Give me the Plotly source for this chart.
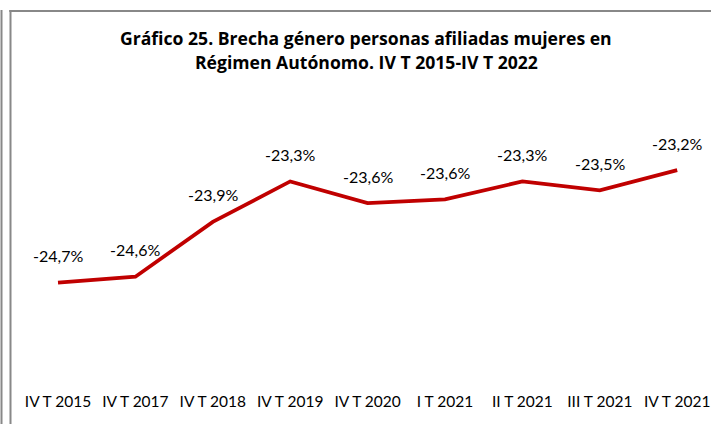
import plotly.graph_objects as go

# ---- data ----
categories = ["IV T 2015", "IV T 2017", "IV T 2018", "IV T 2019", "IV T 2020",
              "I T 2021", "II T 2021", "III T 2021", "IV T 2021"]
brecha = [-24.69, -24.61, -23.88, -23.34, -23.63, -23.58, -23.34, -23.46, -23.19]
title_lines = ["Gráfico 25. Brecha género personas afiliadas mujeres en",
               "Régimen Autónomo. IV T 2015-IV T 2022"]

# ---- layout geometry ----
W, H = 711, 424
FONT = "Lato"
TITLE_FONT = "Open Sans"
LINE_COLOR = "#C00000"
plot_bottom_px = 390          # pixel row of the x axis
first_px, step_px = 58, 77.4  # category spacing
px_per_unit = 75.0
top_value = -20.921           # value at pixel row 0

x_range = [-first_px / step_px, (W - first_px) / step_px]
y_range = [top_value - plot_bottom_px / px_per_unit, top_value]


def fmt(v):
    return f"{v:.1f}".replace(".", ",") + "%"


fig = go.Figure()
fig.add_trace(go.Scatter(
    x=categories, y=brecha, mode="lines",
    line=dict(color=LINE_COLOR, width=3.75),
    hoverinfo="skip", showlegend=False,
))

# decorative frame top edge drawn on a full-figure pixel subplot
gray = "#888888"
fig.add_trace(go.Scatter(
    x=[9.5, W + 5], y=[11, 11], mode="lines", xaxis="x2", yaxis="y2",
    line=dict(color=gray, width=2.2), hoverinfo="skip", showlegend=False,
))

annotations = []
for c, v in zip(categories, brecha):
    annotations.append(dict(
        x=c, y=v, xref="x", yref="y", text=fmt(v), showarrow=False,
        yshift=27, font=dict(family=FONT, size=16, color="#000000"),
    ))

title_y_px = [38, 62]
for line, ypx in zip(title_lines, title_y_px):
    annotations.append(dict(
        x=366 / W, y=1 - ypx / H, xref="paper", yref="paper",
        text=f"<b>{line}</b>", showarrow=False,
        xanchor="center", yanchor="middle",
        font=dict(family=TITLE_FONT, size=17.6, color="#000000"),
    ))


def bar_px(x0, y0, x1, y1, color=gray):
    """Filled rectangle given in figure pixels (top-left origin)."""
    return dict(type="rect", xref="paper", yref="paper",
                x0=x0 / W, x1=x1 / W, y0=1 - y1 / H, y1=1 - y0 / H,
                fillcolor=color, line=dict(width=0), layer="above")


shapes = [
    bar_px(0.5, 10, 2.5, H + 2),      # outer left rule
    bar_px(9.5, 10, 11.5, H + 2),     # inner left frame edge
    bar_px(9.5, 10, W + 2, 12),       # top frame edge
]

fig.update_layout(
    width=W, height=H,
    margin=dict(l=0, r=0, t=0, b=0, pad=0),
    paper_bgcolor="white", plot_bgcolor="rgba(0,0,0,0)",
    annotations=annotations, shapes=shapes,
    xaxis=dict(type="category", range=x_range, showgrid=False, zeroline=False,
               showline=False, ticks="", automargin=False,
               tickfont=dict(family=FONT, size=15.5, color="#000000")),
    yaxis=dict(range=y_range, domain=[(H - plot_bottom_px) / H, 1],
               showgrid=False, zeroline=False, showline=False,
               showticklabels=False, ticks="", automargin=False),
    xaxis2=dict(domain=[0, 1], range=[0, W], anchor="y2", visible=False,
                fixedrange=True),
    yaxis2=dict(domain=[0, 1], range=[H, 0], anchor="x2", visible=False,
                fixedrange=True),
    font=dict(family=FONT),
)

fig.write_html(
    "out.html",
    config={"displayModeBar": False},
    post_script="document.body.style.margin='0';document.body.style.overflow='hidden';",
)
